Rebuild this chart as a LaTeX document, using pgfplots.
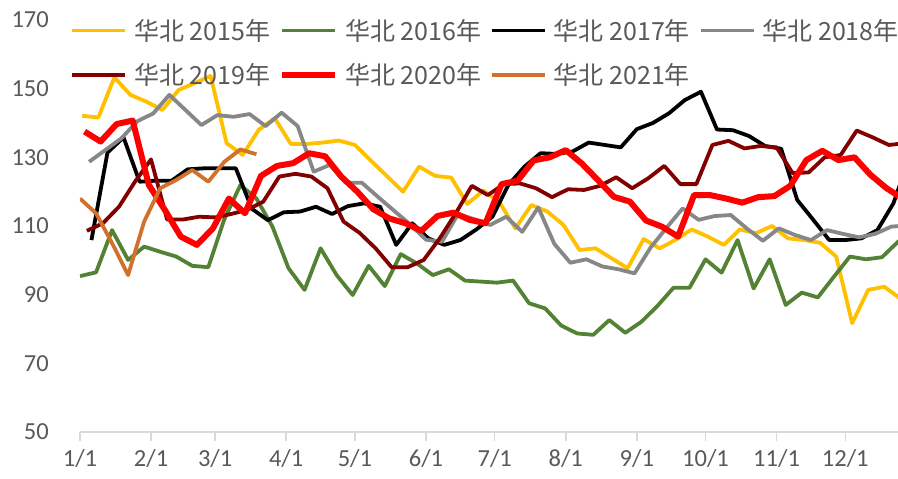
\documentclass[border=0pt]{standalone}
\usepackage{pgfplots}
\pgfplotsset{compat=1.18}
\usepackage{fontspec}
\setmainfont{Carlito}
\newfontfamily\cjk{Noto Sans CJK SC}
\usetikzlibrary{calc}

\definecolor{c15}{HTML}{FFC000}
\definecolor{c16}{HTML}{548235}
\definecolor{c17}{HTML}{000000}
\definecolor{c18}{HTML}{878787}
\definecolor{c19}{HTML}{830000}
\definecolor{c20}{HTML}{FF0000}
\definecolor{c21}{HTML}{D2712B}
\definecolor{labgray}{HTML}{595959}
\definecolor{axgray}{HTML}{D9D9D9}

% weekly data (Fridays), x = day of year (1/1 = 0)
\begin{document}
\begin{tikzpicture}
\begin{axis}[
    scale only axis,
    width=818pt, height=412pt,
    xmin=0, xmax=357,
    ymin=50, ymax=170,
    ytick={50,70,...,170},
    xtick={0,31,59,90,120,151,181,212,243,273,304,334},
    xticklabels={1/1,2/1,3/1,4/1,5/1,6/1,7/1,8/1,9/1,10/1,11/1,12/1},
    axis x line=bottom, axis y line=left,
    x axis line style={-, draw=axgray, line width=1.5pt},
    y axis line style={draw=none},
    tick align=outside,
    xtick style={draw=axgray, line width=1.5pt},
    ytick style={draw=none},
    major tick length=9pt,
    ticklabel style={font=\fontsize{24.5}{30}\selectfont, text=labgray},
    yticklabel style={anchor=east, inner sep=0pt, xshift=-22pt},
    xticklabel style={inner sep=0pt, yshift=-8pt},
    /pgf/number format/assume math mode=true,
    every axis plot/.append style={line join=round, line width=3.8pt},
    legend columns=4,
    legend style={draw=none, fill=none, at={(-0.0122,1.0024)}, anchor=north west,
        font=\cjk\fontsize{25}{30}\selectfont, text=labgray,
        inner sep=0pt, row sep=22pt, column sep=0pt,
        nodes={inner sep=0pt}},
    legend image code/.code={\draw[#1] (0pt,0pt) -- (53pt,0pt);},
]
\addplot[c15] coordinates {
(1,142.1)(8,141.6)(15,153.3)(22,148.2)(29,146.2)(36,143.8)(43,149.6)(50,151.6)(57,153.7)(64,134.1)
(71,130.7)(78,138.0)(85,141.4)(92,133.9)(99,133.9)(106,134.3)(113,134.9)(120,133.6)(127,129.0)(134,124.5)
(141,120.0)(148,127.3)(155,124.6)(162,124.1)(169,116.4)(176,120.3)(183,117.0)(190,109.3)(197,116.1)(204,114.2)
(211,110.3)(218,103.0)(225,103.5)(232,100.6)(239,97.7)(246,106.2)(253,103.5)(260,106.0)(267,109.0)(274,106.9)
(281,104.5)(288,109.0)(295,107.9)(302,110.0)(309,106.4)(316,105.9)(323,105.1)(330,101.1)(337,81.7)(344,91.4)
(351,92.3)(358,88.9)
};
\addlegendentry{\makebox[152pt][l]{\hspace{7pt}华北 2015年}}
\addplot[c16] coordinates {
(0,95.4)(7,96.5)(14,108.8)(21,100.1)(28,104.0)(35,102.5)(42,101.1)(49,98.4)(56,98.0)(63,112.0)
(70,121.9)(77,118.0)(84,109.8)(91,97.7)(98,91.4)(105,103.5)(112,95.7)(119,89.9)(126,98.4)(133,92.5)
(140,101.8)(147,99.1)(154,95.7)(161,97.4)(168,94.1)(175,93.8)(182,93.5)(189,94.1)(196,87.5)(203,86.0)
(210,81.0)(217,78.7)(224,78.3)(231,82.6)(238,78.9)(245,82.1)(252,86.7)(259,92.0)(266,92.0)(273,100.3)
(280,96.4)(287,105.9)(294,91.8)(301,100.3)(308,87.0)(315,90.6)(322,89.2)(329,95.2)(336,101.1)(343,100.3)
(350,100.9)(357,105.4)(364,108)
};
\addlegendentry{\makebox[152pt][l]{\hspace{7pt}华北 2016年}}
\addplot[c17] coordinates {
(5,105.9)(12,131.4)(19,135.8)(26,122.9)(33,123.2)(40,123.2)(47,126.5)(54,126.8)(61,126.8)(68,126.8)
(75,115.0)(82,111.7)(89,114.0)(96,114.2)(103,115.6)(110,113.5)(117,115.8)(124,116.6)(131,115.6)(138,104.5)
(145,110.8)(152,106.4)(159,104.5)(166,105.9)(173,109.0)(180,112.7)(187,122.0)(194,127.3)(201,131.2)(208,131.0)
(215,131.7)(222,134.3)(229,133.6)(236,132.9)(243,138.2)(250,140.0)(257,142.8)(264,146.7)(271,149.1)(278,138.1)
(285,137.9)(292,136.2)(299,133.3)(306,132.5)(313,117.6)(320,111.8)(327,105.9)(334,105.9)(341,106.4)(348,108.8)
(355,116.6)(362,130.0)
};
\addlegendentry{\makebox[152pt][l]{\hspace{7pt}华北 2017年}}
\addplot[c18] coordinates {
(4,128.7)(11,132.1)(18,135.5)(25,140.5)(32,142.8)(39,148.2)(46,143.8)(53,139.4)(60,142.3)(67,141.8)
(74,142.6)(81,139.1)(88,143.0)(95,139.1)(102,125.8)(109,127.8)(116,122.6)(123,122.6)(130,118.5)(137,114.5)
(144,110.5)(151,106.0)(158,105.4)(165,113.5)(172,112.0)(179,110.3)(186,112.7)(193,108.3)(200,115.4)(207,104.8)
(214,99.3)(221,100.3)(228,98.2)(235,97.4)(242,96.2)(249,103.7)(256,109.5)(263,115.1)(270,111.8)(277,112.9)
(284,113.2)(291,109.3)(298,105.7)(305,109.3)(312,107.4)(319,105.9)(326,108.8)(333,107.7)(340,106.7)(347,107.7)
(354,109.8)(361,110.2)
};
\addlegendentry{\makebox[152pt][l]{\hspace{7pt}华北 2018年}}
\addplot[c19] coordinates {
(3,108.6)(10,110.8)(17,115.6)(24,122.9)(31,129.4)(38,111.9)(45,111.9)(52,112.7)(59,112.5)(66,113.5)
(73,114.7)(80,117.1)(87,124.4)(94,125.2)(101,124.4)(108,121.0)(115,111.3)(122,108.0)(129,103.5)(136,98.0)
(143,98.0)(150,100.1)(157,106.4)(164,113.7)(171,121.7)(178,119.0)(185,122.2)(192,122.4)(199,121.0)(206,118.4)
(213,120.7)(220,120.5)(227,121.7)(234,124.2)(241,121.0)(248,123.9)(255,127.5)(262,122.2)(269,122.2)(276,133.6)
(283,134.8)(290,132.6)(297,133.3)(304,132.9)(311,125.4)(318,125.6)(325,130.0)(332,130.7)(339,137.8)(346,135.8)
(353,133.6)(360,134.1)
};
\addlegendentry{\makebox[152pt][l]{\hspace{7pt}华北 2019年}}
\addplot[c20, line width=6pt] coordinates {
(2,137.5)(9,134.6)(16,139.7)(23,140.7)(30,122.0)(37,114.7)(44,106.9)(51,104.5)(58,109.3)(65,118.0)
(72,113.7)(79,124.6)(86,127.5)(93,128.3)(100,131.2)(107,130.3)(114,124.4)(121,120.0)(128,114.9)(135,112.2)
(142,110.8)(149,108.6)(156,112.9)(163,113.9)(170,111.8)(177,110.8)(184,122.2)(191,123.2)(198,129.1)(205,130.0)
(212,132.1)(219,128.2)(226,123.4)(233,118.5)(240,117.1)(247,111.6)(254,109.8)(261,106.9)(268,119.0)(275,119.0)
(282,118.0)(289,116.8)(296,118.4)(303,118.7)(310,121.7)(317,129.2)(324,131.9)(331,129.2)(338,130.0)(345,124.9)
(352,121.0)(359,118.0)
};
\addlegendentry{\makebox[152pt][l]{\hspace{7pt}华北 2020年}}
\addplot[c21] coordinates {
(0,118.0)(7,113.7)(14,105.0)(21,95.7)(28,111.3)(35,121.0)(42,123.4)(49,126.3)(56,122.9)(63,128.7)
(70,132.3)(77,130.9)
};
\addlegendentry{\makebox[152pt][l]{\hspace{7pt}华北 2021年}}
\end{axis}
\pgfresetboundingbox
\path[use as bounding box] ($(current axis.south west)+(-80pt,-47pt)$) rectangle ($(current axis.north east)+(0pt,20pt)$);
\end{tikzpicture}
\end{document}
